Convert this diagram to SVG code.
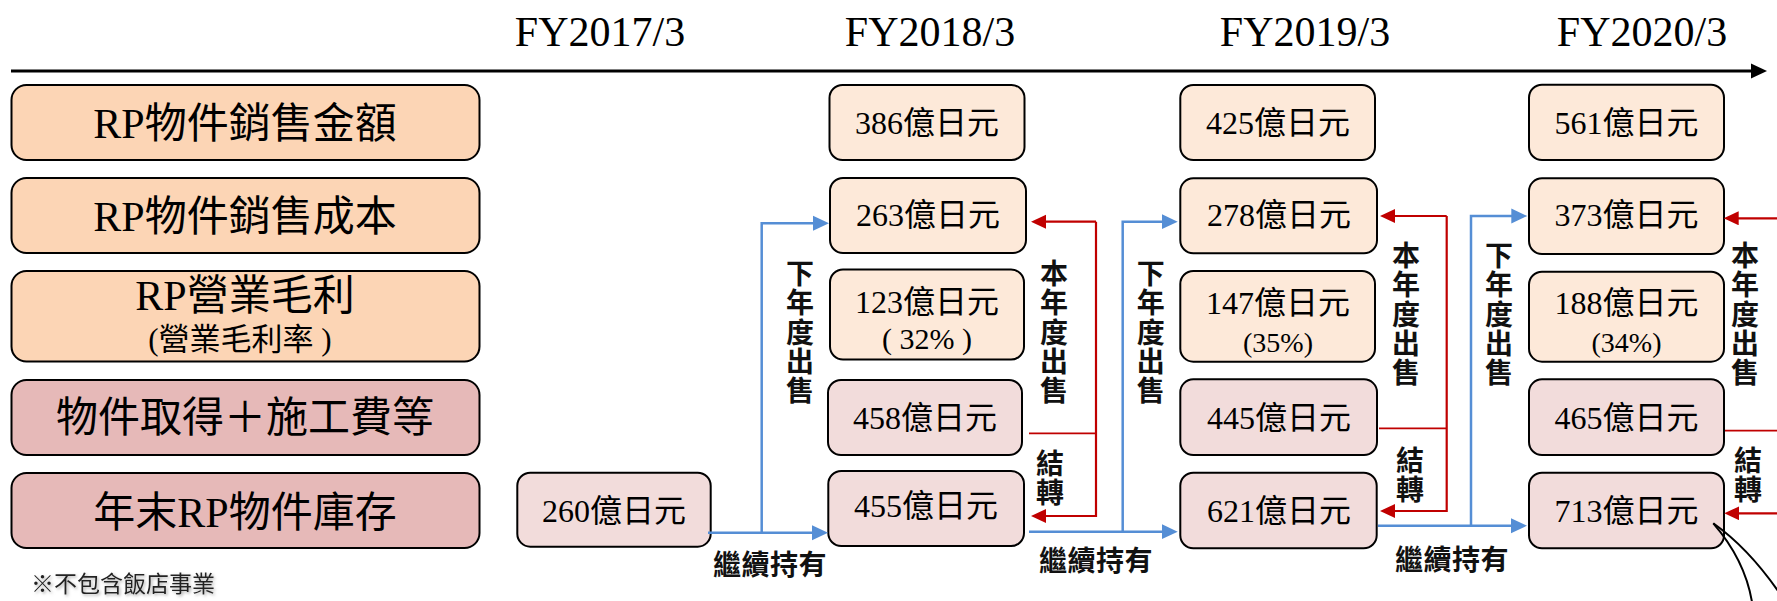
<svg xmlns="http://www.w3.org/2000/svg" width="1777" height="601" viewBox="0 0 1777 601">
<style>
.lbA{fill:#FCD5B5;stroke:#000;stroke-width:2}
.lbB{fill:#E6B9B8;stroke:#000;stroke-width:2}
.vA{fill:#FDE9D9;stroke:#000;stroke-width:2}
.vB{fill:#F2DCDB;stroke:#000;stroke-width:2}
.t{font-family:"Liberation Serif","Noto Sans CJK TC",serif;fill:#000;text-anchor:middle}
.lt{font-size:42px}
.yr{font-size:42px}
.vt{font-size:32px}
.pt{font-size:28px}
.vl{font-family:"Noto Sans CJK TC","Noto Sans CJK JP",sans-serif;font-weight:bold;font-size:28px;fill:#111;text-anchor:middle}
.vv{font-family:"Noto Sans CJK TC","Noto Sans CJK JP",sans-serif;font-weight:bold;font-size:28px;fill:#111;text-anchor:start;writing-mode:vertical-rl;letter-spacing:1.3px}
.blue{fill:none;stroke:#558ED5;stroke-width:2.5}
.red{fill:none;stroke:#C00000;stroke-width:2.2}
.note{font-family:"Noto Sans CJK TC",sans-serif;font-size:23px;fill:#222}
</style>
<defs>
<marker id="ab" markerUnits="userSpaceOnUse" markerWidth="18" markerHeight="16" refX="6" refY="8" orient="auto"><path d="M0,0.5 L16,8 L0,15.5 z" fill="#558ED5"/></marker>
<marker id="ar" markerUnits="userSpaceOnUse" markerWidth="18" markerHeight="16" refX="6" refY="7" orient="auto"><path d="M0,0 L15,7 L0,14 z" fill="#C00000"/></marker>
<filter id="sh" x="-10%" y="-30%" width="120%" height="160%"><feDropShadow dx="1.5" dy="1.5" stdDeviation="1.5" flood-color="#888" flood-opacity="0.7"/></filter>
</defs>

<g id="axis">
<line x1="11" y1="71" x2="1753" y2="71" stroke="#000" stroke-width="3"/>
<polygon points="1751,63.5 1767,71 1751,78.5" fill="#000"/>
</g>
<g id="years">
<text class="t yr" x="600" y="46">FY2017/3</text>
<text class="t yr" x="930" y="46">FY2018/3</text>
<text class="t yr" x="1305" y="46">FY2019/3</text>
<text class="t yr" x="1642" y="46">FY2020/3</text>
</g>

<g id="label-sales">
<rect class="lbA" x="11.5" y="85" width="468" height="75" rx="15"/>
<text class="t lt" x="245" y="138">RP物件銷售金額</text>
</g>
<g id="label-cost">
<rect class="lbA" x="11.5" y="178" width="468" height="75" rx="15"/>
<text class="t lt" x="245" y="231">RP物件銷售成本</text>
</g>
<g id="label-gross">
<rect class="lbA" x="11.5" y="271" width="468" height="90.5" rx="15"/>
<text class="t lt" x="245" y="310">RP營業毛利</text>
<text class="t" x="240" y="350" style="font-size:31px">(營業毛利率 )</text>
</g>
<g id="label-acq">
<rect class="lbB" x="11.5" y="380" width="468" height="75" rx="15"/>
<text class="t lt" x="245" y="432">物件取得＋施工費等</text>
</g>
<g id="label-inv">
<rect class="lbB" x="11.5" y="473" width="468" height="75" rx="15"/>
<text class="t lt" x="245" y="527">年末RP物件庫存</text>
</g>

<g id="v2017-inv">
<rect class="vB" x="517.3" y="472.7" width="193.4" height="74" rx="13"/>
<text class="t vt" x="614" y="521.5">260億日元</text>
</g>

<g id="v2018-sales">
<rect class="vA" x="829.5" y="85" width="195" height="75" rx="13"/>
<text class="t vt" x="927" y="133.5">386億日元</text>
</g>
<g id="v2018-cost">
<rect class="vA" x="830" y="178" width="196" height="75" rx="13"/>
<text class="t vt" x="928" y="226">263億日元</text>
</g>
<g id="v2018-gross">
<rect class="vA" x="830" y="269.5" width="194" height="90" rx="13"/>
<text class="t vt" x="927" y="313">123億日元</text>
<text class="t" x="927" y="348.5" style="font-size:30px">( 32% )</text>
</g>
<g id="v2018-acq">
<rect class="vB" x="828" y="380" width="194" height="75" rx="13"/>
<text class="t vt" x="925" y="428.5">458億日元</text>
</g>
<g id="v2018-inv">
<rect class="vB" x="828.3" y="471" width="195.7" height="75" rx="13"/>
<text class="t vt" x="926" y="517">455億日元</text>
</g>

<g id="v2019-sales">
<rect class="vA" x="1180.3" y="85" width="194.7" height="75" rx="13"/>
<text class="t vt" x="1278" y="133.5">425億日元</text>
</g>
<g id="v2019-cost">
<rect class="vA" x="1180.3" y="178.3" width="196.7" height="75" rx="13"/>
<text class="t vt" x="1279" y="226">278億日元</text>
</g>
<g id="v2019-gross">
<rect class="vA" x="1180.3" y="271" width="194.7" height="90.7" rx="13"/>
<text class="t vt" x="1278" y="313.5">147億日元</text>
<text class="t pt" x="1278" y="351.5">(35%)</text>
</g>
<g id="v2019-acq">
<rect class="vB" x="1180.3" y="379.3" width="196.7" height="75.7" rx="13"/>
<text class="t vt" x="1279" y="428.5">445億日元</text>
</g>
<g id="v2019-inv">
<rect class="vB" x="1180.3" y="472.7" width="196.4" height="75.6" rx="13"/>
<text class="t vt" x="1279" y="522">621億日元</text>
</g>

<g id="v2020-sales">
<rect class="vA" x="1529" y="84.7" width="195" height="75.3" rx="13"/>
<text class="t vt" x="1626.5" y="133.5">561億日元</text>
</g>
<g id="v2020-cost">
<rect class="vA" x="1529" y="178.3" width="195" height="75.7" rx="13"/>
<text class="t vt" x="1626.5" y="226">373億日元</text>
</g>
<g id="v2020-gross">
<rect class="vA" x="1529" y="271.7" width="195" height="90" rx="13"/>
<text class="t vt" x="1626.5" y="313.5">188億日元</text>
<text class="t pt" x="1626.5" y="351.5">(34%)</text>
</g>
<g id="v2020-acq">
<rect class="vB" x="1529" y="379.3" width="195" height="75.7" rx="13"/>
<text class="t vt" x="1626.5" y="428.5">465億日元</text>
</g>
<g id="v2020-inv">
<rect class="vB" x="1529" y="472.7" width="195" height="75.6" rx="13"/>
<text class="t vt" x="1626.5" y="522">713億日元</text>
</g>

<g id="connectors">
<path class="blue" d="M708,532.7 H818" marker-end="url(#ab)"/>
<path class="blue" d="M761.7,532.7 V223.3 H819" marker-end="url(#ab)"/>
<path class="blue" d="M1029,531.7 H1167.7" marker-end="url(#ab)"/>
<path class="blue" d="M1122.7,531.7 V221.7 H1167.7" marker-end="url(#ab)"/>
<path class="blue" d="M1378,525.7 H1517" marker-end="url(#ab)"/>
<path class="blue" d="M1471,525.7 V216 H1517.3" marker-end="url(#ab)"/>

<path class="red" d="M1029,433.3 H1096" style="stroke-width:1.8"/>
<path class="red" d="M1096,221.7 H1040" marker-end="url(#ar)"/>
<path class="red" d="M1096,221.7 V516 H1040" marker-end="url(#ar)"/>
<path class="red" d="M1379,428.3 H1446.7" style="stroke-width:1.8"/>
<path class="red" d="M1446.7,216 H1389" marker-end="url(#ar)"/>
<path class="red" d="M1446.7,216 V511 H1389" marker-end="url(#ar)"/>
<path class="red" d="M1725,430.7 H1790" style="stroke-width:1.8"/>
<path class="red" d="M1790,218.3 H1732.7" marker-end="url(#ar)"/>
<path class="red" d="M1790,513.3 H1733.3" marker-end="url(#ar)"/>

<path d="M1713.3,523.3 Q1745,560 1752,602" fill="none" stroke="#000" stroke-width="2"/>
<path d="M1713.3,523.3 Q1748,548 1778,591" fill="none" stroke="#000" stroke-width="2"/>
</g>

<g id="conn-labels">
<text class="vv" x="800" y="259.5">下年度出售</text>
<text class="vv" x="1054" y="259.5">本年度出售</text>
<text class="vv" x="1150.7" y="259.5">下年度出售</text>
<text class="vv" x="1406" y="241.3">本年度出售</text>
<text class="vv" x="1499" y="241.3">下年度出售</text>
<text class="vv" x="1745" y="241.3">本年度出售</text>
<text class="vv" x="1050" y="449.5">結轉</text>
<text class="vv" x="1410" y="446.3">結轉</text>
<text class="vv" x="1748" y="446.3">結轉</text>
<text class="vl" x="770" y="574.5" style="letter-spacing:0.5px">繼續持有</text>
<text class="vl" x="1096" y="571" style="letter-spacing:0.5px">繼續持有</text>
<text class="vl" x="1452" y="569.5" style="letter-spacing:0.5px">繼續持有</text>
</g>

<g id="footnote">
<text class="note" x="31" y="592" filter="url(#sh)">※不包含飯店事業</text>
</g>
</svg>
